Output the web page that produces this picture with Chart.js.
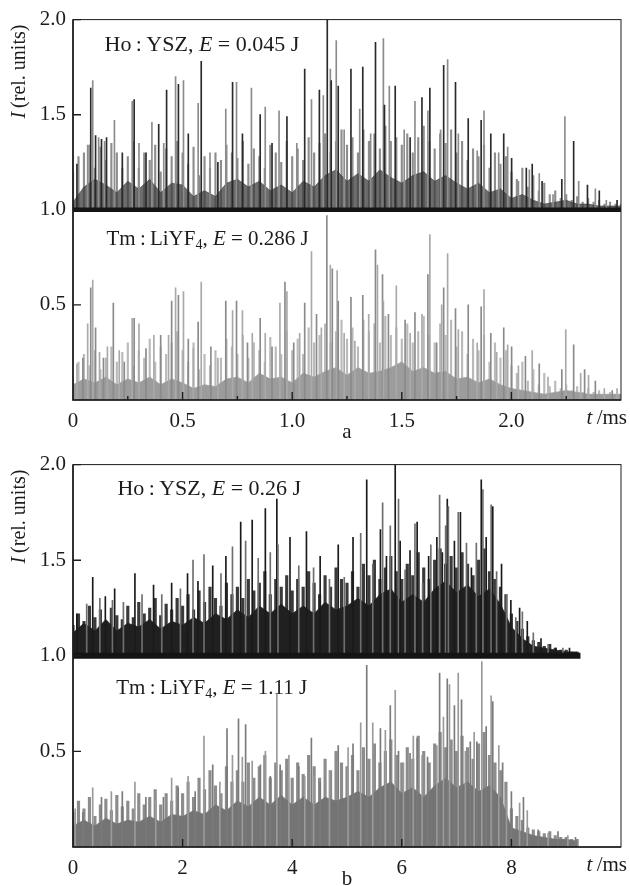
<!DOCTYPE html>
<html>
<head>
<meta charset="utf-8">
<script src="https://cdn.jsdelivr.net/npm/chart.js@4.4.1/dist/chart.umd.min.js"></script>
<style>
  html, body { margin: 0; padding: 0; background: #fff; }
  #wrap { position: relative; width: 630px; height: 886px; }
  #ca { position: absolute; left: 0; top: 0; }
  #cb { position: absolute; left: 0; top: 445px; }
</style>
</head>
<body>
<div id="wrap">
  <canvas id="ca" width="630" height="445"></canvas>
  <canvas id="cb" width="630" height="441"></canvas>
</div>
<script>
// ---- panel a: Ho:YSZ (0.045 J) and Tm:LiYF4 (0.286 J), t in ms ----
// tall spikes
const hoA_t = [0.018,0.067,0.081,0.090,0.103,0.117,0.130,0.144,0.153,0.189,0.225,0.270,0.279,0.301,0.333,0.360,0.391,0.414,0.427,0.468,0.481,0.504,0.526,0.571,0.585,0.625,0.661,0.697,0.728,0.746,0.773,0.814,0.854,0.877,0.908,0.940,0.976,1.021,1.057,1.088,1.124,1.142,1.160,1.174,1.178,1.201,1.210,1.237,1.268,1.308,1.322,1.358,1.380,1.416,1.421,1.443,1.470,1.511,1.538,1.560,1.592,1.619,1.628,1.677,1.691,1.709,1.745,1.758,1.803,1.844,1.862,1.875,1.906,1.942,1.965,1.983,2.001,2.032,2.068,2.082,2.095,2.127,2.140,2.190,2.230,2.244,2.284,2.307,2.347,2.383,2.401,2.433,2.482];
const hoA_v = [1.24,1.34,1.64,1.68,1.39,1.38,1.37,1.36,1.38,1.47,1.30,1.57,1.58,1.35,1.30,1.46,1.45,1.35,1.63,1.70,1.66,1.68,1.40,1.56,1.78,1.30,1.25,1.53,1.67,1.67,1.40,1.64,1.50,1.54,1.35,1.52,1.49,1.35,1.74,1.58,1.63,1.60,2.00,1.74,1.68,1.89,1.65,1.42,1.74,1.53,1.75,1.40,1.88,1.90,1.55,1.65,1.65,1.42,1.38,1.57,1.59,1.52,1.64,1.42,1.76,1.79,1.67,1.40,1.48,1.31,1.47,1.52,1.40,1.30,1.40,1.33,1.27,1.15,1.22,1.21,1.24,1.19,1.15,1.08,1.16,1.49,1.36,1.15,1.13,1.11,1.10,1.05,1.05];
const tmA_t = [0.018,0.045,0.067,0.081,0.090,0.103,0.121,0.139,0.157,0.184,0.211,0.234,0.270,0.279,0.301,0.333,0.369,0.400,0.436,0.450,0.468,0.481,0.504,0.526,0.549,0.571,0.585,0.629,0.661,0.697,0.728,0.746,0.773,0.796,0.818,0.854,0.877,0.908,0.944,0.967,0.976,1.007,1.034,1.057,1.088,1.111,1.133,1.158,1.174,1.183,1.205,1.210,1.237,1.268,1.286,1.322,1.349,1.380,1.389,1.412,1.416,1.439,1.475,1.515,1.538,1.560,1.592,1.619,1.628,1.659,1.682,1.691,1.709,1.745,1.758,1.803,1.844,1.862,1.875,1.906,1.933,1.965,1.983,2.001,2.032,2.064,2.095,2.127,2.167,2.230,2.248,2.284,2.316,2.334,2.352,2.383,2.424,2.460,2.482];
const tmA_v = [0.19,0.22,0.40,0.59,0.63,0.38,0.25,0.22,0.28,0.51,0.26,0.20,0.43,0.43,0.40,0.27,0.34,0.34,0.34,0.52,0.59,0.55,0.57,0.32,0.27,0.41,0.62,0.28,0.22,0.52,0.47,0.52,0.47,0.30,0.35,0.43,0.35,0.28,0.51,0.62,0.57,0.30,0.35,0.51,0.78,0.45,0.38,0.97,0.71,0.69,0.68,0.52,0.35,0.54,0.31,0.55,0.45,0.79,0.71,0.66,0.52,0.45,0.60,0.42,0.35,0.46,0.45,0.66,0.87,0.30,0.50,0.59,0.77,0.48,0.37,0.50,0.30,0.49,0.58,0.35,0.25,0.38,0.29,0.28,0.18,0.23,0.26,0.19,0.12,0.16,0.37,0.29,0.14,0.16,0.13,0.10,0.06,0.05,0.06];
// dense core, every 0.05 ms
const gridA = [0,0.05,0.10,0.15,0.20,0.25,0.30,0.35,0.40,0.45,0.50,0.55,0.60,0.65,0.70,0.75,0.80,0.85,0.90,0.95,1.00,1.05,1.10,1.15,1.20,1.25,1.30,1.35,1.40,1.45,1.50,1.55,1.60,1.65,1.70,1.75,1.80,1.85,1.90,1.95,2.00,2.05,2.10,2.15,2.20,2.25,2.30,2.35,2.40,2.45,2.50];
const hoA_dense = [1.04,1.12,1.16,1.13,1.09,1.15,1.11,1.16,1.09,1.14,1.13,1.07,1.10,1.07,1.14,1.16,1.12,1.15,1.10,1.13,1.09,1.15,1.12,1.18,1.21,1.15,1.19,1.15,1.21,1.17,1.14,1.18,1.20,1.15,1.18,1.14,1.11,1.14,1.09,1.11,1.06,1.08,1.05,1.03,1.04,1.05,1.03,1.03,1.02,1.02,1.02];
const tmA_dense = [0.08,0.11,0.09,0.12,0.08,0.11,0.09,0.12,0.08,0.11,0.09,0.06,0.08,0.07,0.11,0.12,0.09,0.14,0.11,0.12,0.09,0.14,0.12,0.15,0.17,0.13,0.17,0.14,0.15,0.17,0.20,0.15,0.17,0.14,0.15,0.11,0.12,0.09,0.11,0.08,0.06,0.05,0.04,0.03,0.04,0.05,0.04,0.03,0.03,0.03,0.03];
// grass of thin spikes, every 0.025 ms
const gridA2 = [0,0.025,0.05,0.075,0.1,0.125,0.15,0.175,0.2,0.225,0.25,0.275,0.3,0.325,0.35,0.375,0.4,0.425,0.45,0.475,0.5,0.525,0.55,0.575,0.6,0.625,0.65,0.675,0.7,0.725,0.75,0.775,0.8,0.825,0.85,0.875,0.9,0.925,0.95,0.975,1.0,1.025,1.05,1.075,1.1,1.125,1.15,1.175,1.2,1.225,1.25,1.275,1.3,1.325,1.35,1.375,1.4,1.425,1.45,1.475,1.5,1.525,1.55,1.575,1.6,1.625,1.65,1.675,1.7,1.725,1.75,1.775,1.8,1.825,1.85,1.875,1.9,1.925,1.95,1.975,2.0,2.025,2.05,2.075,2.1,2.125,2.15,2.175,2.2,2.225,2.25,2.275,2.3,2.325,2.35,2.375,2.4,2.425,2.45,2.475,2.5];
const hoA_grass = [1.20,1.28,1.30,1.34,1.22,1.33,1.26,1.35,1.30,1.22, 1.28,1.36,1.22,1.30,1.26,1.34,1.20,1.32,1.28,1.36, 1.30,1.24,1.33,1.18,1.28,1.22,1.30,1.26,1.34,1.30, 1.27,1.36,1.24,1.32,1.28,1.22,1.34,1.30,1.25,1.36, 1.28,1.32,1.26,1.38,1.30,1.35,1.40,1.30,1.36,1.42, 1.34,1.38,1.30,1.42,1.36,1.40,1.32,1.44,1.36,1.38, 1.34,1.40,1.30,1.38,1.44,1.36,1.32,1.40,1.35,1.42, 1.30,1.36,1.26,1.32,1.28,1.34,1.22,1.30,1.24,1.28, 1.20,1.16,1.22,1.12,1.18,1.10,1.14,1.08,1.10,1.06, 1.08,1.05,1.07,1.04,1.06,1.04,1.05,1.03,1.04,1.03, 1.03];
const tmA_grass = [0.12,0.20,0.24,0.18,0.26,0.16,0.22,0.28,0.20,0.25, 0.30,0.18,0.26,0.22,0.32,0.20,0.28,0.24,0.30,0.36, 0.26,0.20,0.30,0.16,0.24,0.18,0.26,0.22,0.32,0.28, 0.24,0.34,0.22,0.30,0.26,0.20,0.33,0.28,0.24,0.36, 0.26,0.32,0.24,0.38,0.30,0.34,0.40,0.30,0.36,0.42, 0.32,0.38,0.28,0.42,0.36,0.40,0.30,0.44,0.34,0.38, 0.32,0.40,0.30,0.36,0.44,0.34,0.30,0.40,0.34,0.42, 0.28,0.36,0.24,0.32,0.26,0.34,0.20,0.30,0.22,0.26, 0.18,0.14,0.20,0.10,0.16,0.08,0.14,0.07,0.10,0.06, 0.08,0.05,0.07,0.04,0.06,0.04,0.05,0.03,0.04,0.03, 0.03];
const bandA_t = [0, 2.5];
const bandA_v = [1.0, 1.0];
const xTicksA = [0.5, 1.0, 1.5, 2.0];
const xMinorA = [0.25, 0.75, 1.25, 1.75, 2.25];

// ---- panel b: Ho:YSZ (0.26 J) and Tm:LiYF4 (1.11 J) ----
const hoB_t = [0.07,0.25,0.36,0.49,0.59,0.72,0.76,0.92,1.13,1.26,1.47,1.62,1.80,1.96,2.09,2.19,2.28,2.39,2.55,2.70,2.79,2.91,3.06,3.15,3.27,3.38,3.51,3.60,3.72,3.74,3.96,4.12,4.26,4.39,4.51,4.68,4.84,4.95,5.11,5.25,5.36,5.47,5.61,5.65,5.72,5.79,5.88,5.94,5.97,6.06,6.15,6.24,6.28,6.38,6.49,6.53,6.64,6.69,6.74,6.80,6.83,6.85,6.96,7.03,7.07,7.18,7.27,7.36,7.45,7.48,7.54,7.63,7.66,7.73,7.82,7.91,7.99,8.08,8.15,8.20,8.29,8.40,8.54,8.67,8.81,8.94,9.06];
const hoB_v = [1.22,1.27,1.41,1.30,1.31,1.29,1.35,1.28,1.43,1.32,1.37,1.32,1.38,1.35,1.43,1.50,1.39,1.53,1.47,1.43,1.52,1.57,1.70,1.60,1.71,1.51,1.77,1.54,1.82,1.58,1.62,1.47,1.65,1.46,1.52,1.40,1.58,1.41,1.62,1.64,1.92,1.48,1.66,1.80,1.52,1.68,2.00,1.82,1.60,1.45,1.55,1.69,1.70,1.38,1.52,1.58,1.62,1.84,1.54,1.68,1.82,1.78,1.60,1.75,1.75,1.59,1.46,1.59,1.92,1.87,1.62,1.79,1.78,1.44,1.48,1.32,1.29,1.20,1.25,1.23,1.18,1.12,1.09,1.06,1.04,1.04,1.04];
const tmB_t = [0.04,0.18,0.36,0.52,0.70,0.90,1.13,1.33,1.51,1.65,1.80,1.92,2.10,2.23,2.39,2.55,2.68,2.81,2.91,3.02,3.09,3.15,3.27,3.42,3.51,3.60,3.72,3.78,3.94,4.12,4.23,4.35,4.39,4.51,4.68,4.84,5.02,5.11,5.25,5.36,5.47,5.61,5.70,5.79,5.88,5.94,6.03,6.15,6.21,6.28,6.37,6.47,6.64,6.69,6.76,6.83,6.87,6.96,7.03,7.09,7.16,7.25,7.32,7.37,7.46,7.54,7.63,7.66,7.77,7.84,7.91,8.00,8.15,8.22,8.29,8.49,8.67,8.85,9.03,9.17];
const tmB_v = [0.20,0.18,0.31,0.26,0.29,0.29,0.34,0.26,0.25,0.26,0.36,0.31,0.37,0.29,0.58,0.43,0.34,0.62,0.48,0.67,0.47,0.64,0.45,0.43,0.50,0.37,0.80,0.43,0.48,0.42,0.37,0.57,0.37,0.34,0.40,0.53,0.52,0.54,0.65,0.95,0.65,0.62,0.61,0.74,0.82,0.50,0.44,0.49,0.58,0.57,0.48,0.47,0.53,0.91,0.68,0.88,0.85,0.74,0.91,0.77,0.50,0.55,0.60,0.55,0.97,0.63,0.79,0.76,0.53,0.44,0.25,0.29,0.23,0.26,0.19,0.09,0.07,0.08,0.06,0.05];
const gridB = [0,0.2,0.4,0.6,0.8,1.0,1.2,1.4,1.6,1.8,2.0,2.2,2.4,2.6,2.8,3.0,3.2,3.4,3.6,3.8,4.0,4.2,4.4,4.6,4.8,5.0,5.2,5.4,5.6,5.8,6.0,6.2,6.4,6.6,6.8,7.0,7.2,7.4,7.6,7.8,8.0,8.2,8.4,8.6,8.8,9.0,9.2,9.4,9.6,9.8,10.0];
const hoB_dense = [1.12,1.17,1.13,1.19,1.13,1.17,1.15,1.19,1.14,1.18,1.16,1.20,1.17,1.22,1.19,1.24,1.20,1.26,1.22,1.27,1.22,1.26,1.22,1.28,1.24,1.26,1.30,1.26,1.32,1.35,1.28,1.32,1.28,1.35,1.39,1.33,1.37,1.31,1.35,1.27,1.15,1.09,1.05,1.04,1.03,1.02,1.02,null,null,null,null];
const tmB_dense = [0.11,0.14,0.11,0.15,0.12,0.14,0.13,0.16,0.13,0.17,0.16,0.19,0.17,0.22,0.19,0.24,0.21,0.26,0.22,0.27,0.22,0.26,0.22,0.26,0.24,0.26,0.29,0.26,0.31,0.34,0.28,0.31,0.26,0.32,0.36,0.31,0.34,0.29,0.32,0.26,0.10,0.08,0.06,0.05,0.04,0.04,0.03,null,null,null,null];
const gridB2 = [0,0.1,0.2,0.3,0.4,0.5,0.6,0.7,0.8,0.9,1.0,1.1,1.2,1.3,1.4,1.5,1.6,1.7,1.8,1.9,2.0,2.1,2.2,2.3,2.4,2.5,2.6,2.7,2.8,2.9,3.0,3.1,3.2,3.3,3.4,3.5,3.6,3.7,3.8,3.9,4.0,4.1,4.2,4.3,4.4,4.5,4.6,4.7,4.8,4.9,5.0,5.1,5.2,5.3,5.4,5.5,5.6,5.7,5.8,5.9,6.0,6.1,6.2,6.3,6.4,6.5,6.6,6.7,6.8,6.9,7.0,7.1,7.2,7.3,7.4,7.5,7.6,7.7,7.8,7.9,8.0,8.1,8.2,8.3,8.4,8.5,8.6,8.7,8.8,8.9,9.0,9.1,9.2];
const hoB_grass = [1.16,1.22,1.18,1.26,1.20,1.24,1.17,1.25,1.21,1.19, 1.26,1.20,1.28,1.22,1.25,1.30,1.21,1.27,1.24,1.30, 1.26,1.32,1.24,1.34,1.28,1.36,1.30,1.26,1.38,1.32, 1.36,1.30,1.40,1.34,1.38,1.44,1.32,1.40,1.36,1.42, 1.34,1.40,1.36,1.44,1.38,1.32,1.42,1.36,1.46,1.40, 1.38,1.44,1.36,1.48,1.42,1.50,1.40,1.46,1.52,1.44, 1.40,1.48,1.42,1.54,1.46,1.40,1.50,1.56,1.48,1.52, 1.46,1.54,1.48,1.42,1.50,1.56,1.44,1.40,1.36,1.32, 1.22,1.18,1.14,1.10,1.08,1.07,1.05,1.06,1.04,1.03, 1.03,1.02,1.02];
const tmB_grass = [0.18,0.24,0.20,0.26,0.16,0.22,0.25,0.19,0.27,0.21, 0.24,0.20,0.28,0.22,0.26,0.30,0.22,0.28,0.24,0.32, 0.28,0.34,0.26,0.36,0.30,0.40,0.32,0.28,0.42,0.34, 0.40,0.34,0.44,0.36,0.42,0.48,0.36,0.44,0.40,0.46, 0.36,0.44,0.38,0.48,0.42,0.36,0.46,0.40,0.50,0.44, 0.42,0.48,0.40,0.52,0.46,0.54,0.44,0.50,0.56,0.48, 0.44,0.52,0.46,0.58,0.50,0.44,0.54,0.60,0.52,0.56, 0.50,0.58,0.52,0.46,0.54,0.60,0.48,0.44,0.40,0.34, 0.20,0.16,0.14,0.10,0.09,0.08,0.07,0.08,0.06,0.05, 0.05,0.04,0.04];
const bandB_t = [0, 9.26];
const bandB_v = [1.0, 1.0];
const xTicksB = [2, 4, 6, 8];

const yTicks = [0.5, 1.0, 1.5, 2.0];
const SERIF = '"Liberation Serif", "DejaVu Serif", serif';
const INK = '#1c1c1c';

function pts(ts, vs) {
  return ts.map((t, i) => ({ x: t, y: vs[i] }));
}
function bars(ts, vs, base) {
  return ts.map((t, i) => ({ x: t, y: vs[i] == null ? null : [base, vs[i]] }));
}

// draws a run of text pieces: [text, 'r' | 'i' | 'sub']
function richText(ctx, x, y, parts, size) {
  let cx = x;
  parts.forEach(([txt, st]) => {
    const s = st === 'sub' ? Math.round(size * 0.68) : size;
    ctx.font = (st === 'i' ? 'italic ' : '') + s + 'px ' + SERIF;
    ctx.fillText(txt, cx, y + (st === 'sub' ? size * 0.28 : 0));
    cx += ctx.measureText(txt).width;
  });
  return cx - x;
}
function richWidth(ctx, parts, size) {
  let w = 0;
  parts.forEach(([txt, st]) => {
    const s = st === 'sub' ? Math.round(size * 0.68) : size;
    ctx.font = (st === 'i' ? 'italic ' : '') + s + 'px ' + SERIF;
    w += ctx.measureText(txt).width;
  });
  return w;
}

function decor(cfg) {
  return {
    id: 'decor',
    afterDraw(chart) {
      const { ctx, chartArea: a, scales: { x, y } } = chart;
      ctx.save();
      ctx.strokeStyle = INK;
      ctx.fillStyle = INK;

      // frame
      ctx.lineWidth = 1;
      ctx.strokeRect(a.left, a.top, a.right - a.left, a.bottom - a.top);
      ctx.lineWidth = 1.6;
      ctx.beginPath();
      ctx.moveTo(a.left, a.top);
      ctx.lineTo(a.left, a.bottom);
      ctx.lineTo(a.right, a.bottom);
      ctx.stroke();

      // inward ticks
      ctx.lineWidth = 1.4;
      ctx.beginPath();
      yTicks.forEach(v => {
        const py = y.getPixelForValue(v);
        ctx.moveTo(a.left, py); ctx.lineTo(a.left + 8, py);
      });
      cfg.xTicks.forEach(v => {
        const px = x.getPixelForValue(v);
        ctx.moveTo(px, a.bottom); ctx.lineTo(px, a.bottom - 8);
      });
      cfg.xMinor.forEach(v => {
        const px = x.getPixelForValue(v);
        ctx.moveTo(px, a.bottom); ctx.lineTo(px, a.bottom - 4);
      });
      ctx.stroke();

      ctx.textBaseline = 'middle';
      ctx.textAlign = 'left';

      // series labels
      cfg.labels.forEach(l => {
        richText(ctx, x.getPixelForValue(l.t), y.getPixelForValue(l.v), l.parts, l.size);
      });

      // axis unit at the right end
      const unit = [['t', 'i'], ['\u2009/ms', 'r']];
      const uw = richWidth(ctx, unit, 21);
      richText(ctx, a.right - uw + 6, a.bottom + 18, unit, 21);

      // panel letter
      ctx.textAlign = 'center';
      ctx.textBaseline = 'alphabetic';
      ctx.font = '21px ' + SERIF;
      ctx.fillText(cfg.letter, (a.left + a.right) / 2, a.bottom + 38);

      // rotated y title
      const title = [['I', 'i'], ['\u2009(rel. units)', 'r']];
      ctx.textAlign = 'left';
      ctx.textBaseline = 'middle';
      const tw = richWidth(ctx, title, 20);
      ctx.translate(20, a.top + 52);
      ctx.rotate(-Math.PI / 2);
      richText(ctx, -tw / 2, 0, title, 20);
      ctx.restore();
    }
  };
}

function makeChart(id, d, s) {
  return new Chart(document.getElementById(id), {
    type: 'bar',
    data: {
      datasets: [
        { type: 'line', data: pts(d.bandT, d.bandV), borderColor: '#141414', borderWidth: s.bandW,
          pointRadius: 0, fill: false, order: 0 },
        { data: bars(d.hoT, d.hoV, 1), backgroundColor: c => (c.dataIndex % 2 ? s.hoSpikeB : s.hoSpikeA),
          barThickness: 1, grouped: false, order: 1 },
        { data: bars(d.tmT, d.tmV, 0), backgroundColor: c => (c.dataIndex % 2 ? s.tmSpikeB : s.tmSpikeA),
          barThickness: 1, grouped: false, order: 2 },
        { type: 'line', data: pts(d.grid, d.hoDense), fill: { value: 1 }, backgroundColor: s.hoFill,
          borderColor: s.hoFill, borderWidth: 0.8, pointRadius: 0, tension: 0, order: 3 },
        { type: 'line', data: pts(d.grid, d.tmDense), fill: 'origin', backgroundColor: s.tmFill,
          borderColor: s.tmFill, borderWidth: 0.8, pointRadius: 0, tension: 0, order: 4 },
        { data: bars(d.grid2, d.hoGrass, 1), backgroundColor: s.hoGrass,
          barThickness: s.grassW, grouped: false, order: 5 },
        { data: bars(d.grid2, d.tmGrass, 0), backgroundColor: s.tmGrass,
          barThickness: s.grassW, grouped: false, order: 6 }
      ]
    },
    options: {
      responsive: false,
      animation: false,
      events: [],
      layout: { padding: { top: 18, right: 1, left: 0, bottom: 0 } },
      plugins: { legend: { display: false }, tooltip: { enabled: false } },
      scales: {
        x: {
          type: 'linear', min: 0, max: s.xMax, offset: false,
          grid: { display: false, drawTicks: false },
          border: { display: false },
          afterFit: sc => { sc.height = s.xH; },
          ticks: {
            stepSize: s.xStep, autoSkip: false, maxRotation: 0, padding: 9,
            color: INK, font: { family: SERIF, size: 21 },
            callback: s.xFmt
          }
        },
        y: {
          min: 0, max: 2.0,
          grid: { display: false, drawTicks: false },
          border: { display: false },
          afterFit: sc => { sc.width = 73; },
          ticks: {
            stepSize: 0.5, padding: 7, color: INK, font: { family: SERIF, size: 21 },
            callback: v => (v === 0 ? '' : v.toFixed(1))
          }
        }
      }
    },
    plugins: [decor(s.decor)]
  });
}

makeChart('ca',
  { bandT: bandA_t, bandV: bandA_v, hoT: hoA_t, hoV: hoA_v, tmT: tmA_t, tmV: tmA_v,
    grid: gridA, hoDense: hoA_dense, tmDense: tmA_dense,
    grid2: gridA2, hoGrass: hoA_grass, tmGrass: tmA_grass },
  {
    bandW: 4.5, hoSpikeA: '#2a2a2a', hoSpikeB: '#8c8c8c', tmSpikeA: '#a9a9a9', tmSpikeB: '#8a8a8a',
    hoFill: 'rgba(60,60,60,0.75)', tmFill: '#9c9c9c', hoGrass: '#8e8e8e', tmGrass: '#bababa',
    grassW: 1.5,
    xMax: 2.5, xStep: 0.5, xH: 45,
    xFmt: v => (v >= 2.5 ? '' : v === 0 ? '0' : v.toFixed(1)),
    decor: {
      xTicks: xTicksA, xMinor: xMinorA, letter: 'a',
      labels: [
        { t: 0.144, v: 1.866, size: 22, parts: [['Ho\u2009:\u2009YSZ, ', 'r'], ['E', 'i'], [' = 0.045 J', 'r']] },
        { t: 0.153, v: 0.845, size: 21, parts: [['Tm\u2009:\u2009LiYF', 'r'], ['4', 'sub'], [', ', 'r'], ['E', 'i'], [' = 0.286 J', 'r']] }
      ]
    }
  });

makeChart('cb',
  { bandT: bandB_t, bandV: bandB_v, hoT: hoB_t, hoV: hoB_v, tmT: tmB_t, tmV: tmB_v,
    grid: gridB, hoDense: hoB_dense, tmDense: tmB_dense,
    grid2: gridB2, hoGrass: hoB_grass, tmGrass: tmB_grass },
  {
    bandW: 6, hoSpikeA: '#1a1a1a', hoSpikeB: '#6e6e6e', tmSpikeA: '#9a9a9a', tmSpikeB: '#7a7a7a',
    hoFill: '#202020', tmFill: '#747474', hoGrass: '#3a3a3a', tmGrass: '#8c8c8c',
    grassW: 2.5,
    xMax: 10, xStep: 2, xH: 39,
    xFmt: v => (v >= 10 ? '' : String(v)),
    decor: {
      xTicks: xTicksB, xMinor: [], letter: 'b',
      labels: [
        { t: 0.81, v: 1.87, size: 22, parts: [['Ho\u2009:\u2009YSZ, ', 'r'], ['E', 'i'], [' = 0.26 J', 'r']] },
        { t: 0.79, v: 0.83, size: 21, parts: [['Tm\u2009:\u2009LiYF', 'r'], ['4', 'sub'], [', ', 'r'], ['E', 'i'], [' = 1.11 J', 'r']] }
      ]
    }
  });
</script>
</body>
</html>
